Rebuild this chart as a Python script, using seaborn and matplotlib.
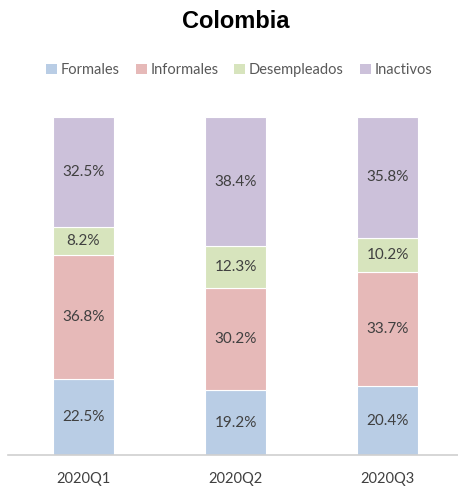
import numpy as np
import pandas as pd
import matplotlib
matplotlib.use('Agg')
from matplotlib import pyplot as plt
from matplotlib.patches import Patch
import seaborn as sns

quarters = ['2020Q1', '2020Q2', '2020Q3']
series = ['Formales', 'Informales', 'Desempleados', 'Inactivos']
formales = [22.5, 19.2, 20.4]
informales = [36.8, 30.2, 33.7]
desempleados = [8.2, 12.3, 10.2]
inactivos = [32.5, 38.4, 35.8]
colors = ['#B9CDE5', '#E6B9B8', '#D7E4BD', '#CCC1DA']

sns.set_style('white')
plt.rcParams['font.family'] = ['Lato', 'DejaVu Sans']

fig = plt.figure(figsize=(4.58, 4.87), dpi=100)
ax = fig.add_axes([7.5 / 458, 32 / 487, 450.5 / 458, 338 / 487])

values = [formales, informales, desempleados, inactivos]
bottom = np.zeros(len(quarters))
for name, vals, col in zip(series, values, colors):
    df = pd.DataFrame({'q': quarters, 'v': vals})
    sns.barplot(data=df, x='q', y='v', bottom=bottom, color=col, width=0.4,
                edgecolor='white', linewidth=0.8, ax=ax, saturation=1)
    bottom = bottom + np.array(vals)

for cont, vals in zip(ax.containers, values):
    ax.bar_label(cont, labels=[f'{v:.1f}%' for v in vals], label_type='center',
                 fontsize=11, color='#404040')

ax.set_xlim(-0.5, 2.464)
ax.set_ylim(0, 100)
ax.set_yticks([])
ax.set_xlabel('')
ax.set_ylabel('')
for s in ['top', 'left', 'right']:
    ax.spines[s].set_visible(False)
ax.spines['bottom'].set_color('#D0D0D0')
ax.spines['bottom'].set_linewidth(1.2)
ax.tick_params(axis='x', length=0, labelsize=10.5, labelcolor='#404040', pad=12)

fig.text(0.515, 1 - 22 / 487, 'Colombia', ha='center', va='center', color='black',
         fontsize=17, fontweight='bold', family='Liberation Sans')

handles = [Patch(facecolor=c, edgecolor='none') for c in colors]
fig.legend(handles, series, loc='center', bbox_to_anchor=(0.522, 1 - 70 / 487),
           ncol=4, frameon=False, fontsize=10.5, handlelength=0.75, handleheight=0.75,
           handletextpad=0.25, columnspacing=1.1, labelcolor='#595959')

plt.savefig('out.png', dpi=100)
